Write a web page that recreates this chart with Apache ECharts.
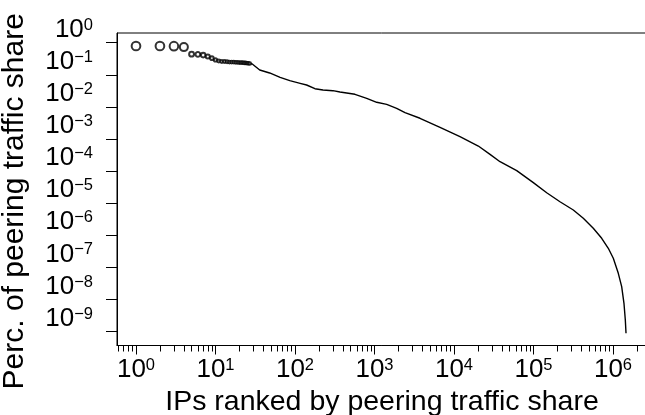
<!DOCTYPE html>
<html><head><meta charset="utf-8">
<script src="https://cdn.jsdelivr.net/npm/echarts@6/dist/echarts.min.js"></script>
<style>html,body{margin:0;padding:0;background:#fff}#c{width:645px;height:415px}</style>
</head><body><div id="c"></div>
<script>
// ---- data ----
const topRanks  = [1,2,3,4,5,6,7,8,9,10,11,12,13,14,15,16,17,18,19,20,21,22,23,24,25,26,27];
const topShares = [0.79,0.79,0.78,0.73,0.44,0.43,0.41,0.37,0.33,0.29,0.27,0.26,0.26,0.255,0.25,0.25,0.25,0.245,0.245,0.24,0.24,0.24,0.235,0.235,0.23,0.23,0.225];
const tailRanks  = [20,25,29,36,48,65,86,116,140,178,225,300,368,568,798,1066,1423,1900,2420,3735,6670,11890,20230,28400,37930,61500,99500,146600,215300,316800,423000,565000,721000,873000,1009000,1166000,1286000,1374000,1429000,1458000];
const tailShares = [0.24,0.233,0.217,0.141,0.114,0.0836,0.0655,0.0543,0.0481,0.0369,0.0336,0.0320,0.0291,0.0247,0.0185,0.0139,0.0120,0.00904,0.00659,0.00442,0.00231,0.00118,6.05e-4,3.33e-4,1.96e-4,1.03e-4,4.36e-5,2.12e-5,1.11e-5,6.14e-6,3.39e-6,1.65e-6,8.07e-7,3.94e-7,1.92e-7,6.55e-8,2.51e-8,7.62e-9,2.30e-9,8.85e-10];
const xMajorTicks = [1,10,100,1000,10000,100000,1000000];
const xMinorTicks = [0.6,0.7,0.8,0.9,2,3,4,5,6,7,8,9,20,30,40,50,60,70,80,90,200,300,400,500,600,700,800,900,2000,3000,4000,5000,6000,7000,8000,9000,20000,30000,40000,50000,60000,70000,80000,90000,200000,300000,400000,500000,600000,700000,800000,900000,2000000];
const yMajorTicks = [1,1e-1,1e-2,1e-3,1e-4,1e-5,1e-6,1e-7,1e-8,1e-9];
const xTitle = 'IPs ranked by peering traffic share';
const yTitle = 'Perc. of peering traffic share';

// log10 scale handled by a value axis on log10 values
const L = Math.log10;
const FONT = "'Liberation Sans', Arial, Helvetica, sans-serif";
const xMinL = -0.239, xMaxL = 6.4277;
const yMinL = -9.433, yMaxL = 0.302;

function powLabel(n) {
  n = Math.round(n);
  return '{h|\u200b}{b|10}{s|' + (n < 0 ? '\u2212' + (-n) : String(n)) + '}';
}
const rich = {
  h: {fontSize: 1, lineHeight: 26, verticalAlign: 'bottom'},
  b: {fontSize: 26, lineHeight: 14, verticalAlign: 'bottom', fontFamily: FONT, color: '#000'},
  s: {fontSize: 16.5, lineHeight: 17, verticalAlign: 'top', fontFamily: FONT, color: '#000'}
};

const chart = echarts.init(document.getElementById('c'), null, {renderer: 'canvas'});
chart.setOption({
  backgroundColor: '#fff',
  animation: false,
  grid: {left: 117, top: 33, width: 530, height: 312.5, show: true, borderColor: '#000', borderWidth: 1,
         backgroundColor: 'transparent', outerBoundsMode: 'none', containLabel: false},
  xAxis: [{
    type: 'value', min: xMinL, max: xMaxL, position: 'bottom',
    axisLine: {show: true, onZero: false, lineStyle: {color: '#000', width: 1}},
    axisTick: {show: true, customValues: xMajorTicks.map(L), length: 9, lineStyle: {color: '#000', width: 1}},
    axisLabel: {customValues: xMajorTicks.map(L), formatter: powLabel, rich: rich, margin: 11.5, color: '#000',
                hideOverlap: false},
    splitLine: {show: false},
    name: xTitle, nameLocation: 'middle', nameGap: 33,
    nameTextStyle: {fontSize: 28.5, fontFamily: FONT, color: '#000'}
  }, {
    type: 'value', min: xMinL, max: xMaxL, position: 'bottom',
    axisLine: {show: false, onZero: false},
    axisTick: {show: true, customValues: xMinorTicks.map(L), length: 6, lineStyle: {color: '#000', width: 1}},
    axisLabel: {show: false}, splitLine: {show: false}
  }],
  yAxis: {
    type: 'value', min: yMinL, max: yMaxL,
    axisLine: {show: true, onZero: false, lineStyle: {color: '#000', width: 1}},
    axisTick: {show: true, customValues: yMajorTicks.map(L), length: 11, lineStyle: {color: '#000', width: 1}},
    axisLabel: {customValues: yMajorTicks.map(L), formatter: powLabel, rich: rich, margin: 24,
                verticalAlign: 'bottom', color: '#000', hideOverlap: false},
    splitLine: {show: false},
    name: yTitle, nameLocation: 'middle', nameGap: 87,
    nameTextStyle: {fontSize: 30, fontFamily: FONT, color: '#000', padding: [0, 24, 0, 0]}
  },
  series: [{
    type: 'line', xAxisIndex: 0,
    data: tailRanks.map((r, i) => [L(r), L(tailShares[i])]),
    showSymbol: false, symbol: 'none',
    lineStyle: {color: '#000', width: 1.4},
    z: 2
  }, {
    type: 'scatter', xAxisIndex: 0,
    data: topRanks.map((r, i) => [L(r), L(topShares[i])]),
    symbol: 'emptyCircle',
    symbolSize: v => Math.max(2.6, 11 * Math.pow(10, v[1])),
    itemStyle: {color: '#000', borderColor: '#000', borderWidth: 1.3},
    z: 3
  }]
});
</script></body></html>
